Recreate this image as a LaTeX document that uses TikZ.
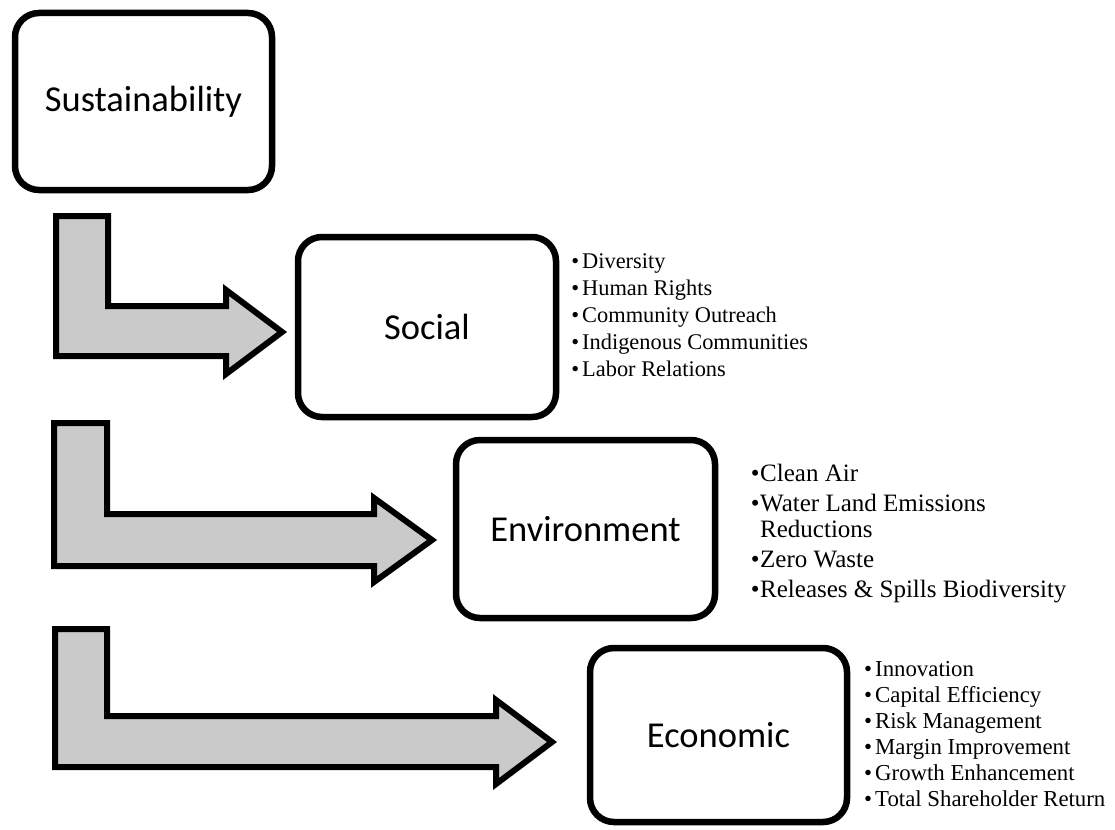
\documentclass[tikz,border=0pt]{standalone}
\usepackage{fontspec}
\setmainfont{Liberation Serif}
\newfontfamily\boxfont{Carlito}
\usetikzlibrary{shadows}
\definecolor{arrowgray}{RGB}{202,202,202}
\newcommand\bul[2]{\makebox[#1][r]{•\hspace{#2}}}
\begin{document}
\begin{tikzpicture}[x=1pt,y=-1pt,
  topic/.style={draw=black, line width=6.5pt, rounded corners=24pt, fill=white,
    inner sep=0pt, font=\boxfont\fontsize{36.5}{40}\selectfont,
    drop shadow={shadow xshift=1.5pt, shadow yshift=-2.5pt, opacity=0.18}},
  bentarrow/.style={draw=black, line width=6pt, fill=arrowgray, line join=miter,
    drop shadow={shadow xshift=1.5pt, shadow yshift=-2.5pt, opacity=0.18}},
  socitem/.style={anchor=base west, inner sep=0pt, font=\fontsize{22.4}{27}\selectfont},
  envitem/.style={anchor=base west, inner sep=0pt, font=\fontsize{25}{30}\selectfont},
  ecoitem/.style={anchor=base west, inner sep=0pt, font=\fontsize{22.8}{26}\selectfont}]
\useasboundingbox (0,0) rectangle (1115,829);

% bent block arrows
\path[bentarrow] (56,216) -- (108,216) -- (108,306) -- (226,306) -- (226,290)
  -- (282,332) -- (226,374) -- (226,356) -- (56,356) -- cycle;
\path[bentarrow] (54,423) -- (107,423) -- (107,514) -- (374,514) -- (374,498)
  -- (432,540) -- (374,582) -- (374,566) -- (54,566) -- cycle;
\path[bentarrow] (55,629) -- (107,629) -- (107,716) -- (496,716) -- (496,700)
  -- (552,742) -- (496,784) -- (496,767) -- (55,767) -- cycle;

% topic boxes
\node[topic, minimum width=257pt, minimum height=177pt] (sust) at (143.5,101.5) {Sustainability};
\node[topic, minimum width=258pt, minimum height=180pt] (soc) at (427,327) {Social};
\node[topic, minimum width=259pt, minimum height=178pt] (env) at (585.5,529) {Environment};
\node[topic, minimum width=257pt, minimum height=174pt] (eco) at (718.5,735) {Economic};

% social items
\foreach \t [count=\i] in {Diversity, Human Rights, Community Outreach,
    Indigenous Communities, Labor Relations}
  \node[socitem] (soc\i) at (566,{268+27*(\i-1)}) {\bul{16pt}{3pt}\t};

% environment items
\node[envitem] (env1) at (746,481) {\bul{14pt}{0.5pt}Clean Air};
\node[envitem] (env2) at (746,511) {\bul{14pt}{0.5pt}Water Land Emissions};
\node[envitem] (env2b) at (760,537) {Reductions};
\node[envitem] (env3) at (746,567) {\bul{14pt}{0.5pt}Zero Waste};
\node[envitem] (env4) at (746,597) {\bul{14pt}{0.5pt}Releases \& Spills Biodiversity};

% economic items
\foreach \t [count=\i] in {Innovation, Capital Efficiency, Risk Management,
    Margin Improvement, Growth Enhancement, Total Shareholder Return}
  \node[ecoitem] (eco\i) at (859,{676+26*(\i-1)}) {\bul{16pt}{3pt}\t};
\end{tikzpicture}
\end{document}
